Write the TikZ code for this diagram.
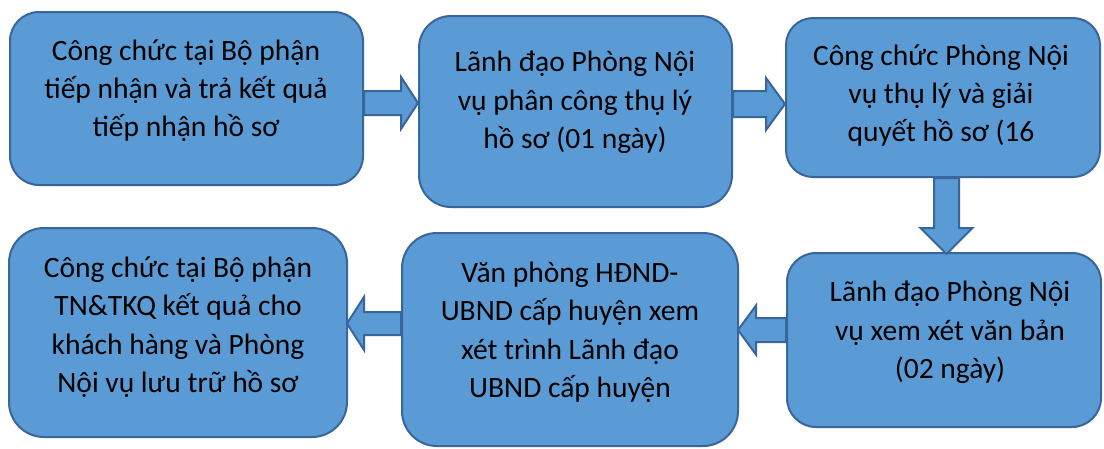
\documentclass[tikz,border=0pt]{standalone}
\usepackage{fontspec}
\setmainfont{Carlito}
\usetikzlibrary{calc}
\definecolor{boxfill}{HTML}{5B9BD5}
\definecolor{boxline}{HTML}{38659A}
\newcommand\tstr{\rule{0pt}{27pt}}
\newcommand\bstr{\rule[-9pt]{0pt}{9pt}}
\tikzset{
  stepbox/.style={draw=boxline, fill=boxfill, line width=2pt, rectangle, inner sep=0pt},
  steptext/.style={inner sep=0pt, align=center, text=black, font=\fontsize{29.5}{38.3}\selectfont},
  blockarrow/.style={draw=boxline, fill=boxfill, line width=2pt, line join=miter}
}
\begin{document}
\begin{tikzpicture}[x=1pt,y=-1pt]
\useasboundingbox[fill=white] (0,0) rectangle (1104,448);
% boxes
\node[stepbox, minimum width=353pt, minimum height=173pt, rounded corners=29pt] (b1) at (186.5,98.5) {};
\node[stepbox, minimum width=313pt, minimum height=191pt, rounded corners=32pt] (b2) at (575.5,111.5) {};
\node[stepbox, minimum width=314pt, minimum height=159pt, rounded corners=27pt] (b3) at (943,97.5) {};
\node[stepbox, minimum width=314pt, minimum height=174pt, rounded corners=29pt] (b4) at (944,340) {};
\node[stepbox, minimum width=336pt, minimum height=213pt, rounded corners=35pt] (b5) at (570,339.5) {};
\node[stepbox, minimum width=338pt, minimum height=209pt, rounded corners=35pt] (b6) at (178,332.5) {};
% texts
\node[steptext] (t1) at (186,89.5) {\tstr Công chức tại Bộ phận\\tiếp nhận và trả kết quả\\tiếp nhận hồ sơ\bstr};
\node[steptext] (t2) at (575,101) {\tstr Lãnh đạo Phòng Nội\\vụ phân công thụ lý\\hồ sơ (01 ngày)\bstr};
\node[steptext] (t3) at (941,94.5) {\tstr Công chức Phòng Nội\\vụ thụ lý và giải\\quyết hồ sơ (16\bstr};
\node[steptext] (t4) at (950,331) {\tstr Lãnh đạo Phòng Nội\\vụ xem xét văn bản\\(02 ngày)\bstr};
\node[steptext] (t5) at (570,331) {\tstr Văn phòng HĐND-\\UBND cấp huyện xem\\xét trình Lãnh đạo\\UBND cấp huyện\bstr};
\node[steptext] (t6) at (178,326) {\tstr Công chức tại Bộ phận\\TN\&TKQ kết quả cho\\khách hàng và Phòng\\Nội vụ lưu trữ hồ sơ\bstr};
% arrow axis coordinates
\coordinate (a1) at (0,103);
\coordinate (a2) at (0,104);
\coordinate (a3) at (946.5,0);
\coordinate (a4) at (0,330);
\coordinate (a5) at (0,323.5);
% arrow 1: b1 -> b2
\draw[blockarrow] let \p1=(b1.east), \p2=(b2.west), \p3=(a1) in
  (\x1,\y3+12pt) -- (\x2-17pt,\y3+12pt) -- (\x2-17pt,\y3+26pt) -- (\x2,\y3)
  -- (\x2-17pt,\y3-26pt) -- (\x2-17pt,\y3-12pt) -- (\x1,\y3-12pt) -- cycle;
% arrow 2: b2 -> b3
\draw[blockarrow] let \p1=(b2.east), \p2=(b3.west), \p3=(a2) in
  (\x1,\y3+13pt) -- (\x2-19pt,\y3+13pt) -- (\x2-19pt,\y3+26pt) -- (\x2,\y3)
  -- (\x2-19pt,\y3-26pt) -- (\x2-19pt,\y3-13pt) -- (\x1,\y3-13pt) -- cycle;
% arrow 3: b3 -> b4 (down)
\draw[blockarrow] let \p1=(b3.south), \p2=(b4.north), \p3=(a3) in
  (\x3-12.5pt,\y1) -- (\x3-12.5pt,\y2+24pt) -- (\x3-26pt,\y2+24pt) -- (\x3,\y2-2pt)
  -- (\x3+26pt,\y2+24pt) -- (\x3+12.5pt,\y2+24pt) -- (\x3+12.5pt,\y1) -- cycle;
% arrow 4: b4 -> b5 (left)
\draw[blockarrow] let \p1=(b4.west), \p2=(b5.east), \p3=(a4) in
  (\x1,\y3+12pt) -- (\x2+17pt,\y3+12pt) -- (\x2+17pt,\y3+24.5pt) -- (\x2-1pt,\y3)
  -- (\x2+17pt,\y3-24.5pt) -- (\x2+17pt,\y3-12pt) -- (\x1,\y3-12pt) -- cycle;
% arrow 5: b5 -> b6 (left)
\draw[blockarrow] let \p1=(b5.west), \p2=(b6.east), \p3=(a5) in
  (\x1,\y3+11.5pt) -- (\x2+16pt,\y3+11.5pt) -- (\x2+16pt,\y3+26.5pt) -- (\x2-1pt,\y3)
  -- (\x2+16pt,\y3-26.5pt) -- (\x2+16pt,\y3-11.5pt) -- (\x1,\y3-11.5pt) -- cycle;
\end{tikzpicture}
\end{document}
